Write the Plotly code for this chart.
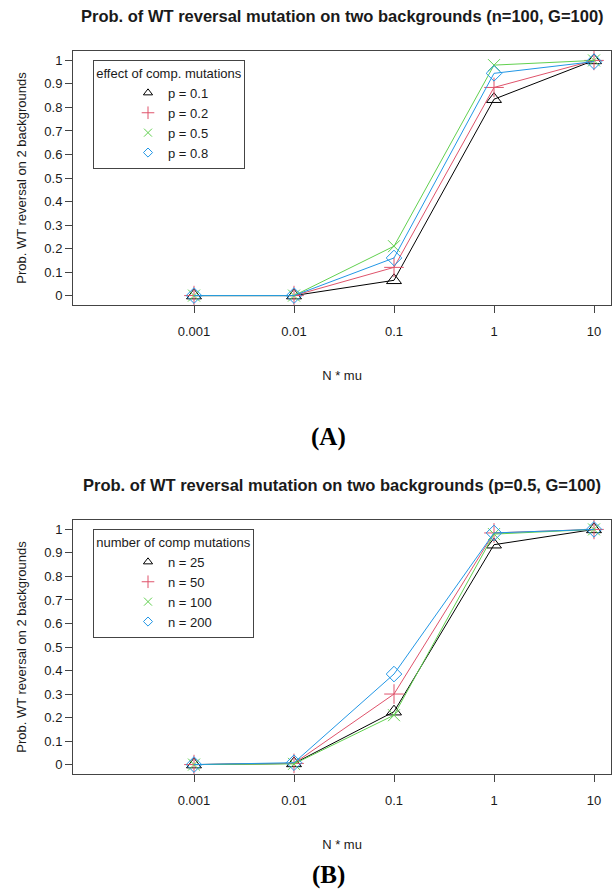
import plotly.graph_objects as go

W, H = 613, 892

x_vals = [0.001, 0.01, 0.1, 1, 10]
x_ticktext = ["0.001", "0.01", "0.1", "1", "10"]
y_tickvals = [0, 0.1, 0.2, 0.3, 0.4, 0.5, 0.6, 0.7, 0.8, 0.9, 1.0]
y_ticktext = ["0", "0.1", "0.2", "0.3", "0.4", "0.5", "0.6", "0.7", "0.8", "0.9", "1"]

# Panel A: effect of comp. mutations
a_names = ["p = 0.1", "p = 0.2", "p = 0.5", "p = 0.8"]
a_p01 = [0.0, 0.0, 0.065, 0.835, 1.0]
a_p02 = [0.0, 0.0, 0.12, 0.885, 1.0]
a_p05 = [0.0, 0.0, 0.21, 0.98, 1.0]
a_p08 = [0.0, 0.0, 0.16, 0.945, 0.995]

# Panel B: number of comp mutations
b_names = ["n = 25", "n = 50", "n = 100", "n = 200"]
b_n25 = [0.0, 0.005, 0.225, 0.935, 1.0]
b_n50 = [0.0, 0.005, 0.30, 0.985, 1.0]
b_n100 = [0.0, 0.003, 0.21, 0.98, 1.0]
b_n200 = [0.0, 0.008, 0.385, 0.985, 1.0]

colors = ["#000000", "#DF536B", "#61D04F", "#2297E6"]
symbols = ["triangle-up-open", "cross-thin-open", "x-thin-open", "diamond-open"]
sizes = [13, 14, 12, 12]
leg_sizes = [8, 9, 8, 7]

FONT = "Liberation Sans, Arial, sans-serif"
TXT = "#1a1a1a"

fig = go.Figure()

def add_panel(series, names, xa, ya, legend):
    for i, ys in enumerate(series):
        fig.add_trace(go.Scatter(
            x=x_vals, y=ys, mode="lines+markers", xaxis=xa, yaxis=ya,
            line=dict(color=colors[i], width=1), showlegend=False,
            marker=dict(symbol=symbols[i], size=sizes[i], color=colors[i],
                        line=dict(color=colors[i], width=1)),
            hoverinfo="x+y", name=names[i]))
    # legend keys (symbol only, as in the original legend)
    for i in range(len(series)):
        fig.add_trace(go.Scatter(
            x=[None], y=[None], mode="markers", xaxis=xa, yaxis=ya,
            name=names[i], legend=legend,
            marker=dict(symbol=symbols[i], size=leg_sizes[i], color=colors[i],
                        line=dict(color=colors[i], width=1))))

add_panel([a_p01, a_p02, a_p05, a_p08], a_names, "x", "y", "legend")
add_panel([b_n25, b_n50, b_n100, b_n200], b_names, "x2", "y2", "legend2")

px = lambda v: v / W
py = lambda v: 1 - v / H

x_dom = [px(73), px(611)]
axis_common = dict(
    showline=True, mirror=True, linecolor="#444", linewidth=1,
    ticks="outside", ticklen=7, tickcolor="#444", tickwidth=1,
    showgrid=False, zeroline=False,
    tickfont=dict(family=FONT, size=13, color=TXT),
)

xcommon = dict(axis_common, type="log", range=[-4.21, 1.17],
               tickvals=x_vals, ticktext=x_ticktext, ticklabelstandoff=7,
               title=dict(text="N * mu", font=dict(family=FONT, size=13, color=TXT), standoff=33))
ycommon = dict(axis_common, range=[-0.04, 1.04], tickvals=y_tickvals, ticktext=y_ticktext,
               title=dict(text="Prob. WT reversal on 2 backgrounds",
                          font=dict(family=FONT, size=13, color=TXT), standoff=14))

legend_common = dict(
    bgcolor="rgba(255,255,255,0)", bordercolor="#444", borderwidth=1,
    font=dict(family=FONT, size=13, color=TXT),
    itemsizing="trace", xanchor="left", yanchor="top",
    indentation=34, tracegroupgap=0,
)

fig.update_layout(
    width=W, height=H, margin=dict(l=0, r=0, t=0, b=0),
    paper_bgcolor="white", plot_bgcolor="white",
    xaxis=dict(xcommon, domain=x_dom, anchor="y"),
    yaxis=dict(ycommon, domain=[py(305), py(51)], anchor="x"),
    xaxis2=dict(xcommon, domain=x_dom, anchor="y2"),
    yaxis2=dict(ycommon, domain=[py(774), py(520)], anchor="x2"),
    legend=dict(legend_common, x=px(93), y=py(60),
                title=dict(text="effect of comp. mutations", side="top center",
                           font=dict(family=FONT, size=13, color=TXT))),
    legend2=dict(legend_common, x=px(93), y=py(529),
                 title=dict(text="number of comp mutations", side="top center",
                            font=dict(family=FONT, size=13, color=TXT))),
    annotations=[
        dict(text="<b>Prob. of WT reversal mutation on two backgrounds (n=100, G=100)</b>",
             x=(x_dom[0] + x_dom[1]) / 2, y=py(16), xref="paper", yref="paper",
             showarrow=False, font=dict(family=FONT, size=16.5, color=TXT),
             xanchor="center", yanchor="middle"),
        dict(text="<b>Prob. of WT reversal mutation on two backgrounds (p=0.5, G=100)</b>",
             x=(x_dom[0] + x_dom[1]) / 2, y=py(485), xref="paper", yref="paper",
             showarrow=False, font=dict(family=FONT, size=16.5, color=TXT),
             xanchor="center", yanchor="middle"),
        dict(text="<b>(A)</b>", x=px(328), y=py(437), xref="paper", yref="paper",
             showarrow=False, font=dict(family="Liberation Serif, Times New Roman, serif", size=25, color="#000"),
             xanchor="center", yanchor="middle"),
        dict(text="<b>(B)</b>", x=px(328), y=py(875), xref="paper", yref="paper",
             showarrow=False, font=dict(family="Liberation Serif, Times New Roman, serif", size=25, color="#000"),
             xanchor="center", yanchor="middle"),
    ],
)

fig.write_html("out.html")
